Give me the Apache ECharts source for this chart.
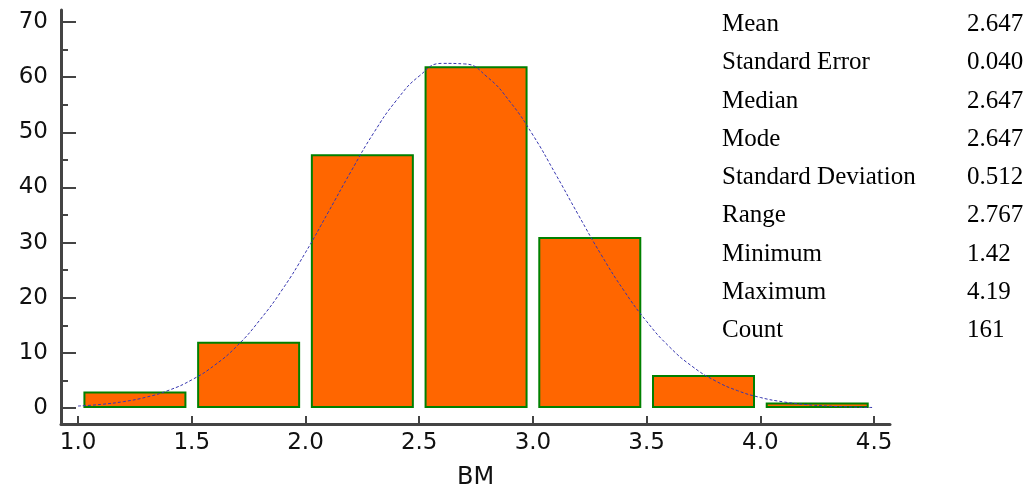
<!DOCTYPE html>
<html>
<head>
<meta charset="utf-8">
<script src="https://cdn.jsdelivr.net/npm/echarts@6/dist/echarts.min.js"></script>
<style>
html,body{margin:0;padding:0;background:#fff;}
#chart{width:1032px;height:489px;}
</style>
</head>
<body>
<div id="chart"></div>
<script>
// ---- data ----
const binCenters = [1.25, 1.75, 2.25, 2.75, 3.25, 3.75, 4.25];
const binCounts = [3, 12, 46, 62, 31, 6, 1];
const curveX = [1.0,1.1,1.2,1.3,1.4,1.5,1.6,1.7,1.8,1.9,2.0,2.1,2.2,2.3,2.4,2.5,2.6,2.7,2.8,2.9,3.0,3.1,3.2,3.3,3.4,3.5,3.6,3.7,3.8,3.9,4.0,4.1,4.2,4.3,4.4,4.5];
const curveY = [0.36,0.65,1.16,1.97,3.23,5.11,7.75,11.3,16.0,21.6,28.2,35.5,42.9,49.9,55.8,60.2,62.5,62.4,60.0,55.5,49.5,42.4,35.0,27.8,21.3,15.7,11.1,7.56,4.97,3.14,1.91,1.12,0.63,0.34,0.18,0.09];
const xTicks = [1.0, 1.5, 2.0, 2.5, 3.0, 3.5, 4.0, 4.5];
const yTicks = [0, 10, 20, 30, 40, 50, 60, 70];
const yMinorTicks = [5, 15, 25, 35, 45, 55, 65];
const xName = 'BM';
const statLabels = ['Mean','Standard Error','Median','Mode','Standard Deviation','Range','Minimum','Maximum','Count'];
const statValues = ['2.647','0.040','2.647','2.647','0.512','2.767','1.42','4.19','161'];

const barData = binCenters.map((c, i) => [c, binCounts[i]]);
const curveData = curveX.map((x, i) => [x, curveY[i]]);

const axisColor = '#444444';
const sansFont = '"DejaVu Sans", "Liberation Sans", Arial, sans-serif';
const serifFont = '"Liberation Serif", "Times New Roman", serif';

const graphics = [];
statLabels.forEach((lab, i) => {
  graphics.push({type:'text', left:722, top: 12 + i*38.25,
    style:{text: lab, font: '25px ' + serifFont, fill:'#000'}});
  graphics.push({type:'text', left:967, top: 12 + i*38.25,
    style:{text: statValues[i], font: '25px ' + serifFont, fill:'#000'}});
});

const chart = echarts.init(document.getElementById('chart'), null, {renderer:'canvas'});
chart.setOption({
  animation: false,
  backgroundColor: '#ffffff',
  grid: {left: 61, right: 142, top: 10, bottom: 65, containLabel: false, outerBoundsMode: 'none'},
  xAxis: {
    type: 'value', min: 0.925, max: 4.57,
    name: xName, nameLocation: 'middle', nameGap: 42,
    nameTextStyle: {fontFamily: sansFont, fontSize: 24, color: '#111'},
    axisLine: {show: true, onZero: false, lineStyle: {color: axisColor, width: 3}},
    axisTick: {show: true, inside: true, length: 8, customValues: xTicks, lineStyle: {color: axisColor, width: 2}},
    axisLabel: {show: true, customValues: xTicks, margin: 8, fontFamily: sansFont, fontSize: 23, color: '#111',
      formatter: v => Number(v).toFixed(1)},
    splitLine: {show: false}
  },
  yAxis: [{
    type: 'value', min: -2.9, max: 72.18, position: 'left',
    axisLine: {show: true, onZero: false, lineStyle: {color: axisColor, width: 3}},
    axisTick: {show: true, inside: true, length: 15, customValues: yTicks, lineStyle: {color: axisColor, width: 2}},
    axisLabel: {show: true, customValues: yTicks, margin: 13, fontFamily: sansFont, fontSize: 23, color: '#111'},
    splitLine: {show: false}
  }, {
    type: 'value', min: -2.9, max: 72.18, position: 'left', offset: 0,
    axisLine: {show: false, onZero: false},
    axisTick: {show: true, inside: true, length: 7, customValues: yMinorTicks, lineStyle: {color: axisColor, width: 2}},
    axisLabel: {show: false},
    splitLine: {show: false}
  }],
  series: [{
    type: 'bar', data: barData, barWidth: 103, yAxisIndex: 0,
    itemStyle: {color: '#FF6600', borderColor: '#008000', borderWidth: 2}
  }, {
    type: 'line', data: curveData, smooth: true, showSymbol: false, yAxisIndex: 0, z: 5,
    lineStyle: {type: [3, 2], width: 1, color: '#3636b0'}
  }],
  graphic: graphics
});
</script>
</body>
</html>
